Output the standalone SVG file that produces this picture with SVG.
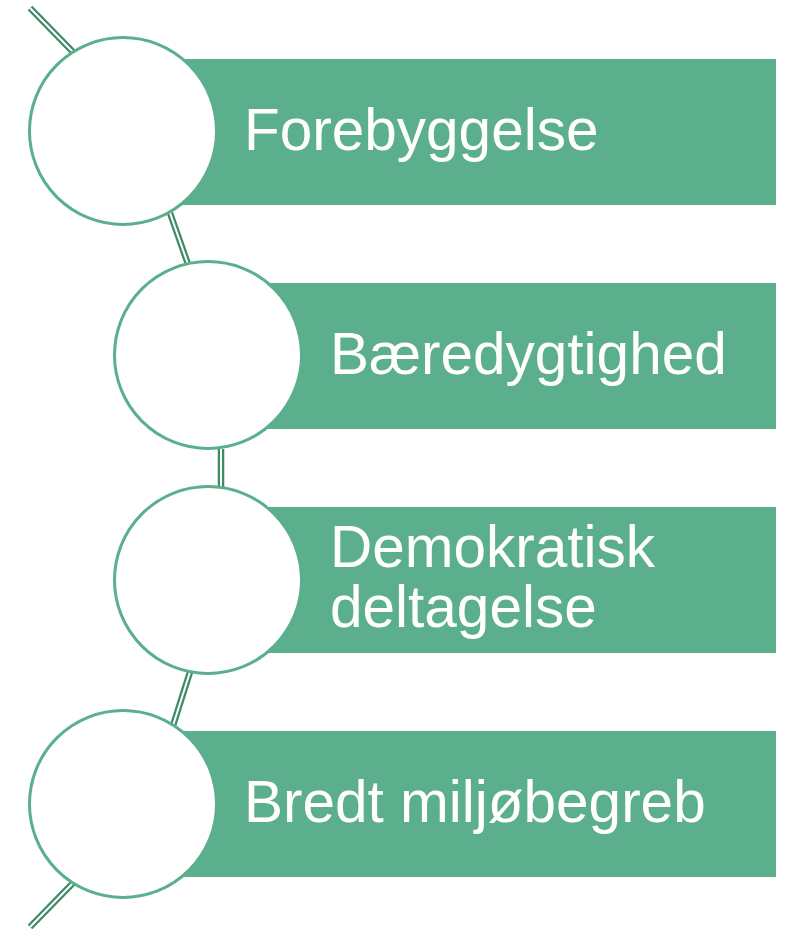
<svg xmlns="http://www.w3.org/2000/svg" width="787" height="929" viewBox="0 0 787 929">
<style>
.bar{fill:#5BAF8C}
.ring{fill:#FFFFFF;stroke:#5BAF8C;stroke-width:3}
.lab{fill:#FFFFFF;font-family:"Liberation Sans",Arial,sans-serif;font-size:58.5px}
.co{stroke:#3E8B67;stroke-width:6.5;fill:none}
.ci{stroke:#FFFFFF;stroke-width:2;fill:none}
</style>
<rect width="787" height="929" fill="#FFFFFF"/>
<g id="connectors">
<path class="co" d="M30,8 L73,52 M170,213 L189,267 M221,449 L221,487 M190,672 L170,735 M73,883 L30,927"/>
<path class="ci" d="M30,8 L73,52 M170,213 L189,267 M221,449 L221,487 M190,672 L170,735 M73,883 L30,927"/>
</g>
<g id="node1">
<rect class="bar" x="182" y="59" width="594" height="146"/>
<circle class="ring" cx="123" cy="131" r="93.5"/>
<text class="lab" x="244" y="150">Forebyggelse</text>
</g>
<g id="node2">
<rect class="bar" x="267" y="283" width="509" height="146"/>
<circle class="ring" cx="208" cy="355" r="93.5"/>
<text class="lab" x="330" y="374">Bæredygtighed</text>
</g>
<g id="node3">
<rect class="bar" x="267" y="507" width="509" height="146"/>
<circle class="ring" cx="208" cy="580" r="93.5"/>
<text class="lab" x="330" y="567">Demokratisk</text>
<text class="lab" x="330" y="627">deltagelse</text>
</g>
<g id="node4">
<rect class="bar" x="182" y="731" width="594" height="146"/>
<circle class="ring" cx="123" cy="804" r="93.5"/>
<text class="lab" x="244" y="822">Bredt miljøbegreb</text>
</g>
</svg>
